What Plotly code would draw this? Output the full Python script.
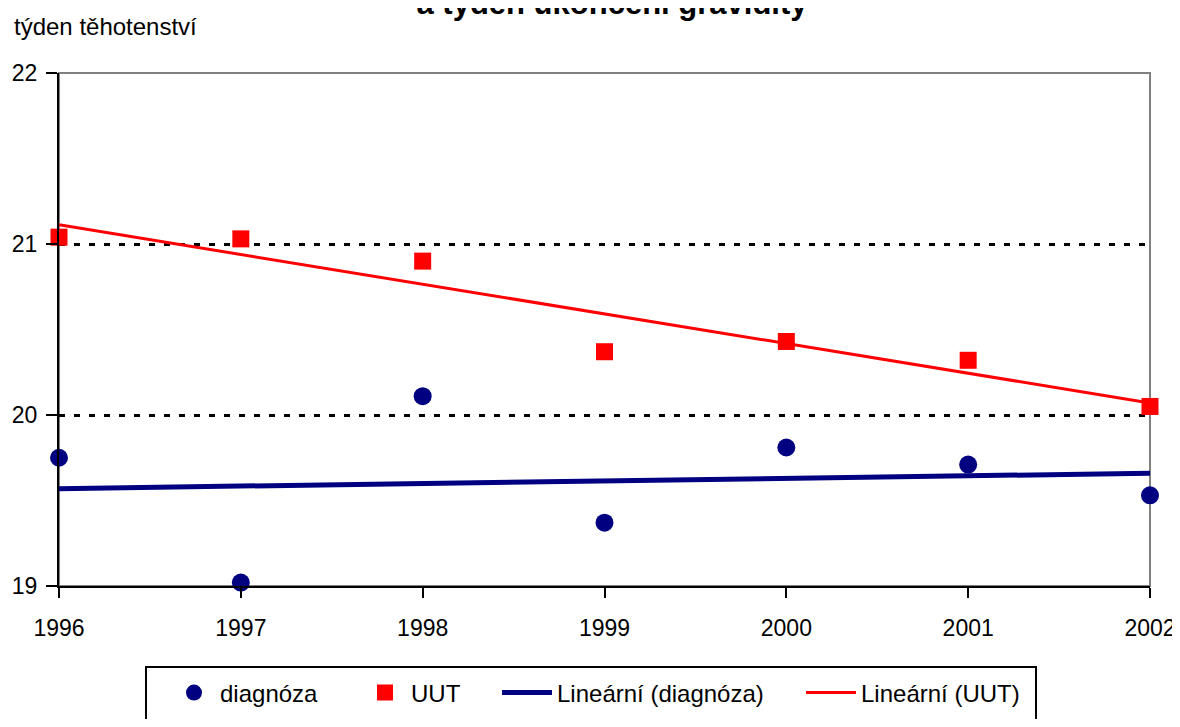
import numpy as np
import plotly.graph_objects as go

# roky a hodnoty (týden těhotenství)
years = [1996, 1997, 1998, 1999, 2000, 2001, 2002]
diagnoza = [19.75, 19.02, 20.11, 19.37, 19.81, 19.71, 19.53]
uut = [21.04, 21.03, 20.90, 20.37, 20.43, 20.32, 20.05]
y_ticks = [19, 20, 21, 22]

FONT = "Liberation Sans, Arial, sans-serif"
NAVY = "#000080"
RED = "#FF0000"

# stránka má okraj 8 px, proto je obrázek o tolik menší
W, H = 1172, 711
L, R, T, B = 51, 30, 65, 133
PW, PH = W - L - R, H - T - B


def px(xf):
    return (xf - L) / PW


def py(yf):
    return (H - B - yf) / PH


# lineární trendy
x = np.array(years, dtype=float)
k_d, q_d = np.polyfit(x, diagnoza, 1)
k_u, q_u = np.polyfit(x, uut, 1)

fig = go.Figure()

fig.add_trace(go.Scatter(
    x=years, y=diagnoza, mode="markers", name="diagnóza",
    marker=dict(symbol="circle", size=18, color=NAVY),
    cliponaxis=False, legend="legend",
))
fig.add_trace(go.Scatter(
    x=years, y=uut, mode="markers", name="UUT",
    marker=dict(symbol="square", size=17, color=RED),
    cliponaxis=False, legend="legend2",
))
fig.add_trace(go.Scatter(
    x=years, y=k_d * x + q_d, mode="lines", name="Lineární (diagnóza)",
    line=dict(color=NAVY, width=5), legend="legend3",
))
fig.add_trace(go.Scatter(
    x=years, y=k_u * x + q_u, mode="lines", name="Lineární (UUT)",
    line=dict(color=RED, width=3), legend="legend4",
))


def leg(left, itemwidth=42):
    return dict(
        orientation="h", x=px(left), xanchor="left",
        y=py(685), yanchor="middle",
        bgcolor="rgba(0,0,0,0)", borderwidth=0,
        font=dict(size=24, family=FONT, color="black"),
        itemwidth=itemwidth,
    )


fig.update_layout(
    width=W, height=H,
    margin=dict(l=L, r=R, t=T, b=B, autoexpand=False),
    paper_bgcolor="white", plot_bgcolor="white",
    font=dict(family=FONT, size=24, color="black"),
    title=dict(
        text="<b>a týden ukončení gravidity</b>",
        xref="container", x=604 / W, xanchor="center",
        yref="container", y=1 - 6 / H, yanchor="bottom",
        font=dict(size=31, family=FONT, color="black"),
    ),
    legend=leg(160),
    legend2=leg(351),
    legend3=leg(489, 50),
    legend4=leg(793, 50),
    showlegend=True,
)

fig.update_xaxes(
    range=[1996, 2002], tickvals=years, ticktext=[str(v) for v in years],
    showgrid=False, zeroline=False, automargin=False,
    showline=True, linecolor="black", linewidth=2,
    ticks="outside", ticklen=10, tickwidth=2, tickcolor="black",
    ticklabelstandoff=10, ticklabeloverflow="allow",
    tickfont=dict(size=23, family=FONT),
)
fig.update_yaxes(
    range=[19, 22], tickvals=y_ticks,
    showgrid=True, gridcolor="black", gridwidth=2.5, griddash="6px,9px",
    zeroline=False, automargin=False,
    showline=True, linecolor="black", linewidth=2,
    ticks="outside", ticklen=11, tickwidth=2, tickcolor="black",
    ticklabelstandoff=4, ticklabeloverflow="allow",
    tickfont=dict(size=23, family=FONT),
)

# šedý rámeček oblasti grafu
fig.add_shape(type="rect", xref="paper", yref="paper", x0=0, y0=0, x1=1, y1=1,
              line=dict(color="#808080", width=2), layer="below")

# rámeček legendy (dole přesahuje okraj obrázku)
fig.add_shape(type="rect", xref="paper", yref="paper",
              x0=px(138), x1=px(1028), y0=py(659), y1=py(740),
              line=dict(color="black", width=2), fillcolor="rgba(0,0,0,0)")

# popisek osy y
fig.add_annotation(
    text="týden těhotenství", xref="paper", yref="paper",
    x=px(4), y=py(19), xanchor="left", yanchor="middle",
    showarrow=False, font=dict(size=24, family=FONT),
)

fig.write_html("out.html")
